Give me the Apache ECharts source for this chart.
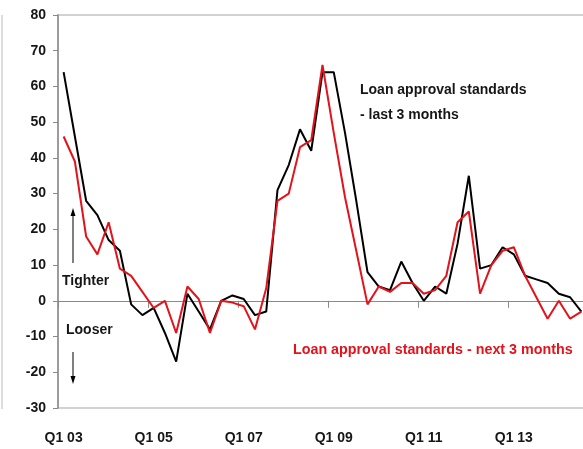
<!DOCTYPE html>
<html>
<head>
<meta charset="utf-8">
<script src="https://cdn.jsdelivr.net/npm/echarts@6/dist/echarts.min.js"></script>
<style>
  html, body { margin: 0; padding: 0; background: #ffffff; }
  #chart { width: 583px; height: 449px; }
</style>
</head>
<body>
<div id="chart"></div>
<script>
// Quarterly survey periods, Q1 2003 to Q3 2014
const quarters = [
  'Q1 03', 'Q2 03', 'Q3 03', 'Q4 03',
  'Q1 04', 'Q2 04', 'Q3 04', 'Q4 04',
  'Q1 05', 'Q2 05', 'Q3 05', 'Q4 05',
  'Q1 06', 'Q2 06', 'Q3 06', 'Q4 06',
  'Q1 07', 'Q2 07', 'Q3 07', 'Q4 07',
  'Q1 08', 'Q2 08', 'Q3 08', 'Q4 08',
  'Q1 09', 'Q2 09', 'Q3 09', 'Q4 09',
  'Q1 10', 'Q2 10', 'Q3 10', 'Q4 10',
  'Q1 11', 'Q2 11', 'Q3 11', 'Q4 11',
  'Q1 12', 'Q2 12', 'Q3 12', 'Q4 12',
  'Q1 13', 'Q2 13', 'Q3 13', 'Q4 13',
  'Q1 14', 'Q2 14', 'Q3 14'
];

// Net balance: loan approval standards over the last 3 months
const lastThreeMonths = [
  64, 46, 28, 24,
  17, 14, -1, -4,
  -2, -9, -17, 2,
  -3, -8, 0, 1.5,
  0.5, -4, -3, 31,
  38, 48, 42, 64,
  64, 47, 28, 8,
  4, 3, 11, 5,
  0, 4, 2, 16,
  35, 9, 10, 15,
  13, 7, 6, 5,
  2, 1, -3
];

// Net balance: expected loan approval standards over the next 3 months
const nextThreeMonths = [
  46, 39, 18, 13,
  22, 9, 7, 2.5,
  -2, 0, -9, 4,
  0.5, -9, 0, -0.5,
  -1.5, -8, 3.5, 28,
  30, 43, 45, 66,
  47, 29, 14, -1,
  4, 2.5, 5, 5,
  2, 3, 7, 22,
  25, 2, 10, 14,
  15, 7, 1, -5,
  0, -5, -3
];

// Value axis range and step
const yMin = -30;
const yMax = 80;
const yStep = 10;

const FONT = "'Liberation Sans', Arial, Helvetica, sans-serif";
const GREY_AXIS = '#8a8a8a';
const GREY_FRAME = '#d2d2d2';
const RED = '#e3121b';
const INK = '#161616';

const chart = echarts.init(document.getElementById('chart'), null, { renderer: 'canvas' });

chart.setOption({
  animation: false,
  backgroundColor: '#ffffff',
  grid: {
    left: 58,
    top: 15,
    width: 529,
    height: 393,
    show: true,
    borderColor: GREY_FRAME,
    borderWidth: 2,
    backgroundColor: 'transparent',
    containLabel: false,
    outerBoundsMode: 'none'
  },
  xAxis: [
    {
      // zero line with a tick every two years
      type: 'category',
      data: quarters,
      boundaryGap: true,
      position: 'bottom',
      axisLine: { show: true, onZero: true, lineStyle: { color: GREY_AXIS, width: 1 } },
      axisTick: { show: true, interval: 7, length: 7, inside: false, lineStyle: { color: GREY_AXIS, width: 1 } },
      axisLabel: { show: false },
      splitLine: { show: false }
    },
    {
      // period labels along the bottom edge
      type: 'category',
      data: quarters,
      boundaryGap: true,
      position: 'bottom',
      axisLine: { show: false, onZero: false },
      axisTick: { show: false },
      axisLabel: {
        interval: 7,
        margin: 23,
        fontSize: 14,
        fontWeight: 'bold',
        fontFamily: FONT,
        color: INK
      },
      splitLine: { show: false }
    }
  ],
  yAxis: {
    type: 'value',
    min: yMin,
    max: yMax,
    interval: yStep,
    axisLine: { show: true, onZero: false, lineStyle: { color: GREY_AXIS, width: 1.5 } },
    axisTick: { show: true, length: 5, inside: false, lineStyle: { color: GREY_AXIS, width: 1 } },
    axisLabel: {
      margin: 12,
      fontSize: 14,
      fontWeight: 'bold',
      fontFamily: FONT,
      color: INK
    },
    splitLine: { show: false }
  },
  series: [
    {
      name: 'Loan approval standards - last 3 months',
      type: 'line',
      xAxisIndex: 0,
      yAxisIndex: 0,
      data: lastThreeMonths,
      symbol: 'none',
      smooth: false,
      lineStyle: { color: '#000000', width: 2 },
      itemStyle: { color: '#000000' },
      z: 3
    },
    {
      name: 'Loan approval standards - next 3 months',
      type: 'line',
      xAxisIndex: 0,
      yAxisIndex: 0,
      data: nextThreeMonths,
      symbol: 'none',
      smooth: false,
      lineStyle: { color: RED, width: 2 },
      itemStyle: { color: RED },
      z: 4
    }
  ],
  graphic: [
    // frame edge on the far left
    { type: 'line', shape: { x1: 2, y1: 15, x2: 2, y2: 409 }, style: { stroke: GREY_FRAME, lineWidth: 1.5 }, silent: true },
    // series captions
    { type: 'text', style: { text: 'Loan approval standards', x: 360, y: 90, fill: INK, fontSize: 14, fontWeight: 'bold', fontFamily: FONT, align: 'left', verticalAlign: 'middle' }, z: 10 },
    { type: 'text', style: { text: '- last 3 months', x: 360, y: 115, fill: INK, fontSize: 14, fontWeight: 'bold', fontFamily: FONT, align: 'left', verticalAlign: 'middle' }, z: 10 },
    { type: 'text', style: { text: 'Loan approval standards - next 3 months', x: 293, y: 350, fill: RED, fontSize: 14.3, fontWeight: 'bold', fontFamily: FONT, align: 'left', verticalAlign: 'middle' }, z: 10 },
    // direction hints
    { type: 'text', style: { text: 'Tighter', x: 62, y: 281, fill: INK, fontSize: 14, fontWeight: 'bold', fontFamily: FONT, align: 'left', verticalAlign: 'middle' }, z: 10 },
    { type: 'text', style: { text: 'Looser', x: 66, y: 330, fill: INK, fontSize: 14, fontWeight: 'bold', fontFamily: FONT, align: 'left', verticalAlign: 'middle' }, z: 10 },
    { type: 'line', shape: { x1: 73, y1: 263, x2: 73, y2: 214 }, style: { stroke: '#000', lineWidth: 1 }, z: 10 },
    { type: 'polygon', shape: { points: [[73, 208], [70.5, 216], [75.5, 216]] }, style: { fill: '#000' }, z: 10 },
    { type: 'line', shape: { x1: 73, y1: 352, x2: 73, y2: 378 }, style: { stroke: '#000', lineWidth: 1 }, z: 10 },
    { type: 'polygon', shape: { points: [[73, 384], [70.5, 376], [75.5, 376]] }, style: { fill: '#000' }, z: 10 }
  ]
});
</script>
</body>
</html>
